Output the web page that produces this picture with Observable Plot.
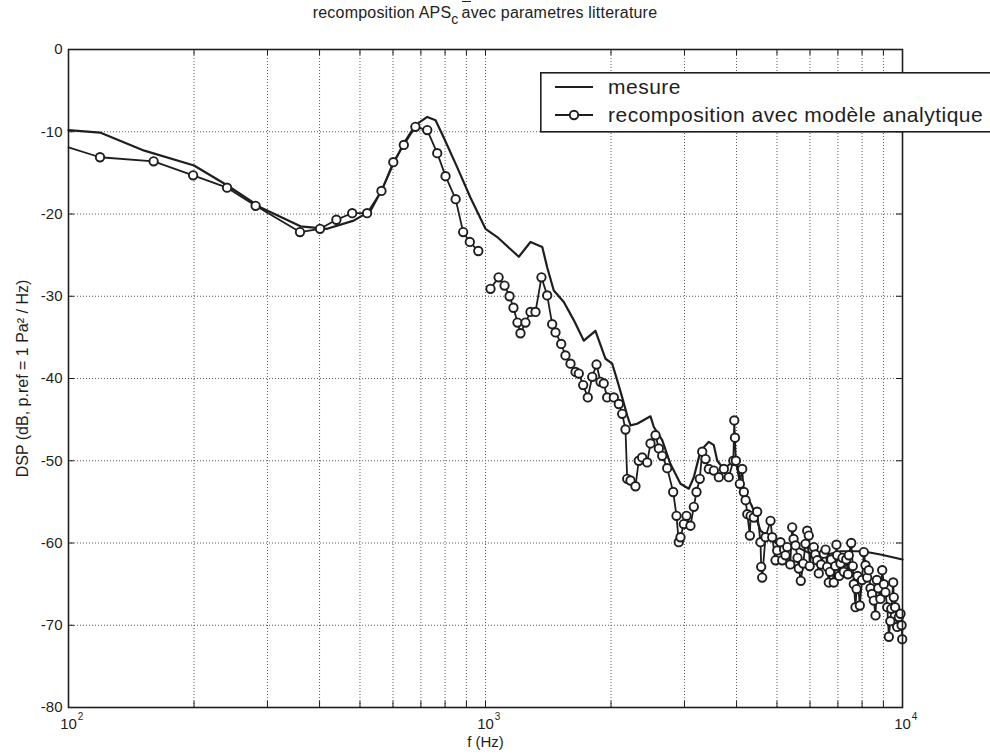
<!DOCTYPE html>
<html><head><meta charset="utf-8">
<script src="https://cdn.jsdelivr.net/npm/d3@7"></script>
<script src="https://cdn.jsdelivr.net/npm/@observablehq/plot@0.6"></script>
<style>
html,body{margin:0;padding:0;background:#fff;}
body{width:990px;height:756px;overflow:hidden;position:relative;font-family:"Liberation Sans Narrow","Liberation Sans",Arial,sans-serif;color:#222;}
#chart{position:absolute;left:0;top:0;}
#title{position:absolute;left:0;width:970px;top:4px;text-align:center;font-size:16px;letter-spacing:0.2px;}
#title sub{font-size:14px;vertical-align:-6px;margin-right:3px;}
.ov{position:relative;}
.ov::before{content:"";position:absolute;left:0;right:0;top:-3px;border-top:1.3px solid #222;}
#legend{position:absolute;left:540px;top:72px;}
</style></head><body>
<div id="chart"></div>
<div id="title">recomposition APS<sub>c</sub><span class="ov">a</span>vec parametres litterature</div>
<div id="legend"></div>
<script>
// ---- data ----
const measureF = [100,119,152,200,240,289,360,417,483,530,565,601,637,679,725,759,794,855,920,1000,1067,1202,1282,1368,1406,1458,1541,1628,1721,1835,1940,2013,2069,2127,2187,2227,2311,2487,2533,2653,2777,2935,3073,3159,3278,3432,3528,3595,3729,3938,4013,4164,4362,4565,5006,5591,6245,7103,8019,8855,10000];
const measureDb = [-9.8,-10.1,-12.3,-14.1,-16.5,-19.2,-21.5,-21.8,-20.8,-19.6,-17.0,-13.9,-11.4,-9.2,-8.2,-8.6,-10.7,-14.3,-18.0,-21.8,-22.8,-25.2,-23.4,-24.0,-26.5,-29.3,-30.7,-32.9,-35.4,-34.2,-37.6,-38.2,-40.2,-42.3,-44.5,-45.7,-45.5,-44.6,-45.9,-47.5,-50.4,-52.8,-53.4,-52.0,-48.8,-47.7,-48.1,-50.0,-51.0,-50.0,-50.8,-53.6,-55.6,-58.5,-60.1,-60.5,-61.7,-61.0,-61.0,-61.4,-62.0];

const recompF = [100,119,160,199,240,281,359,401,439,479,520,563,601,637,679,725,766,802,848,884,917,961,990,1028,1075,1111,1142,1167,1193,1213,1247,1282,1318,1362,1406,1445,1472,1519,1555,1599,1644,1674,1715,1759,1803,1846,1887,1921,1958,2031,2088,2127,2166,2187,2227,2289,2331,2375,2442,2487,2557,2604,2653,2727,2819,2871,2907,2935,2989,3034,3101,3159,3206,3265,3309,3370,3432,3528,3627,3729,3831,3930,3950,3965,3985,4073,4127,4164,4205,4244,4305,4322,4400,4482,4565,4583,4608,4693,4825,4871,4960,5006,5098,5146,5241,5290,5439,5539,5640,5703,5853,5908,5960,6073,6127,6243,6298,6475,6597,6656,6750,6842,6944,6971,7100,7232,7330,7435,7534,7642,7714,7800,7900,8076,8153,8228,8380,8535,8616,8750,8940,9021,9192,9274,9400,9500,9531,9711,9800,9890,9984,
  5200,5380,5480,5600,5780,5990,6180,6380,6540,6700,6900,7050,7180,7400,7600,7760,8000,8300,8450,8680,8850,9100,9350,9600,9950];
const recompDb = [-11.9,-13.1,-13.6,-15.3,-16.8,-19.0,-22.2,-21.8,-20.7,-19.9,-19.9,-17.2,-13.7,-11.6,-9.4,-9.8,-12.6,-15.4,-18.2,-22.2,-23.4,-24.5,null,-29.1,-27.7,-28.7,-30.0,-31.4,-33.2,-34.5,-33.2,-31.9,-31.9,-27.7,-29.9,-33.4,-34.4,-35.8,-37.2,-38.2,-39.2,-39.4,-40.8,-42.3,-39.8,-38.3,-40.4,-40.6,-42.3,-42.3,-43.1,-44.3,-46.2,-52.2,-52.4,-53.1,-50.0,-49.6,-50.2,-47.9,-46.9,-48.5,-49.4,-50.9,-53.8,-56.7,-59.9,-59.3,-57.7,-56.7,-57.9,-55.6,-53.8,-52.2,-48.9,-49.8,-51.0,-51.2,-52.0,-51.0,-52.0,-50.0,-45.1,-47.2,-50.0,-52.8,-51.0,-53.8,-54.8,-56.5,-59.1,-56.7,-56.9,-56.2,-59.9,-62.9,-64.2,-59.3,-57.3,-59.3,-62.1,-60.9,-59.9,-62.1,-61.5,-60.5,-58.1,-60.3,-63.1,-64.6,-60.1,-58.5,-59.1,-60.7,-60.5,-62.1,-63.7,-61.3,-62.9,-64.8,-62.0,-64.8,-60.2,-61.5,-62.5,-63.5,-62.0,-61.5,-60.0,-65.0,-67.8,-64.0,-67.6,-61.1,-62.7,-64.2,-65.5,-67.0,-68.8,-65.5,-63.3,-65.0,-67.8,-71.4,-68.0,-64.8,-66.6,-70.2,-69.0,-68.6,-71.7,
  -60.8,-62.6,-59.5,-61.8,-62.5,-62.8,-61.4,-62.6,-60.8,-63.5,-62.8,-64.0,-61.8,-63.8,-62.8,-65.6,-64.5,-63.3,-66.2,-64.5,-66.8,-66.0,-69.5,-67.8,-70.0];

const xMajorTicks = [100, 1000, 10000];
const xMinorTicks = [200,300,400,500,600,700,800,900,2000,3000,4000,5000,6000,7000,8000,9000];
const yTicks = [0,-10,-20,-30,-40,-50,-60,-70,-80];
const xLabel = "f (Hz)";
const yLabel = "DSP (dB, p.ref = 1 Pa\u00B2 / Hz)";
const legendLabels = ["mesure", "recomposition avec modèle analytique"];

// ---- build ----
const measure = measureF.map((f, i) => ({f, db: measureDb[i]}));
const recomp = d3.sort(recompF.map((f, i) => ({f, db: recompDb[i]})), d => d.f);
const recompDots = recomp.slice(1).filter(d => d.db != null);

const W = 990, H = 756, mT = 49, mB = 49, mL = 68, mR = 88;
const innerW = W - mL - mR, innerH = H - mT - mB;
const tk = 6;
const ink = "#1e1e1e";
const allX = xMajorTicks.concat(xMinorTicks);

const chart = Plot.plot({
  width: W, height: H,
  marginTop: mT, marginBottom: mB, marginLeft: mL, marginRight: mR,
  style: {fontFamily: '"Liberation Sans Narrow","Liberation Sans",Arial,sans-serif', fontSize: "15px", color: ink, background: "transparent", overflow: "visible"},
  x: {type: "log", domain: [100, 10000], axis: null},
  y: {domain: [-80, 0], axis: null},
  marks: [
    Plot.ruleX(xMinorTicks.concat([1000]), {x: d => d, stroke: "#5a5a5a", strokeWidth: 1, strokeDasharray: "1,2"}),
    Plot.ruleY(yTicks.slice(1, -1), {y: d => d, stroke: "#5a5a5a", strokeWidth: 1, strokeDasharray: "1,2"}),
    Plot.tickX(allX, {x: d => d, insetTop: innerH - tk, stroke: ink, strokeWidth: 1}),
    Plot.tickX(allX, {x: d => d, insetBottom: innerH - tk, stroke: ink, strokeWidth: 1}),
    Plot.tickY(yTicks, {y: d => d, insetRight: innerW - tk, stroke: ink, strokeWidth: 1}),
    Plot.tickY(yTicks, {y: d => d, insetLeft: innerW - tk, stroke: ink, strokeWidth: 1}),
    Plot.line(measure, {x: "f", y: "db", stroke: ink, strokeWidth: 2.2}),
    Plot.line(recomp, {x: "f", y: "db", stroke: ink, strokeWidth: 1.8}),
    Plot.dot(recompDots, {x: "f", y: "db", r: 4.2, stroke: ink, strokeWidth: 1.9, fill: "white"}),
    Plot.frame({stroke: ink, strokeWidth: 1.6}),
    Plot.text(yTicks, {y: d => d, frameAnchor: "left", dx: -6, textAnchor: "end", text: d => String(d), fill: ink}),
    Plot.text(xMajorTicks, {x: d => d, frameAnchor: "bottom", dy: 21, text: d => "10", fill: ink, fontSize: 15}),
    Plot.text(xMajorTicks, {x: d => d, frameAnchor: "bottom", dy: 12, dx: 12, text: d => String(Math.round(Math.log10(d))), fill: ink, fontSize: 10}),
    Plot.text([xLabel], {frameAnchor: "bottom", dy: 39, text: d => d, fill: ink, fontSize: 15}),
    Plot.text([yLabel], {frameAnchor: "left", dx: -46, rotate: -90, textAnchor: "middle", text: d => d, fill: ink, fontSize: 16})
  ]
});
document.getElementById("chart").appendChild(chart);

// legend
const lg = d3.select("#legend").append("svg").attr("width", 450).attr("height", 62)
  .style("font-family", '"Liberation Sans",Arial,sans-serif');
lg.append("rect").attr("x", 0.8).attr("y", 0.8).attr("width", 480).attr("height", 59)
  .attr("fill", "#fff").attr("stroke", ink).attr("stroke-width", 1.6);
legendLabels.forEach((lab, i) => {
  const cy = 15 + i * 28;
  lg.append("line").attr("x1", 15).attr("x2", 53).attr("y1", cy).attr("y2", cy)
    .attr("stroke", ink).attr("stroke-width", 2);
  if (i === 1) lg.append("circle").attr("cx", 34).attr("cy", cy).attr("r", 4.2)
    .attr("fill", "#fff").attr("stroke", ink).attr("stroke-width", 1.9);
  lg.append("text").attr("x", 68).attr("y", cy).attr("dy", "0.35em")
    .attr("font-size", 21).attr("letter-spacing", "0.5px").attr("fill", ink).text(lab);
});
</script>
</body></html>
